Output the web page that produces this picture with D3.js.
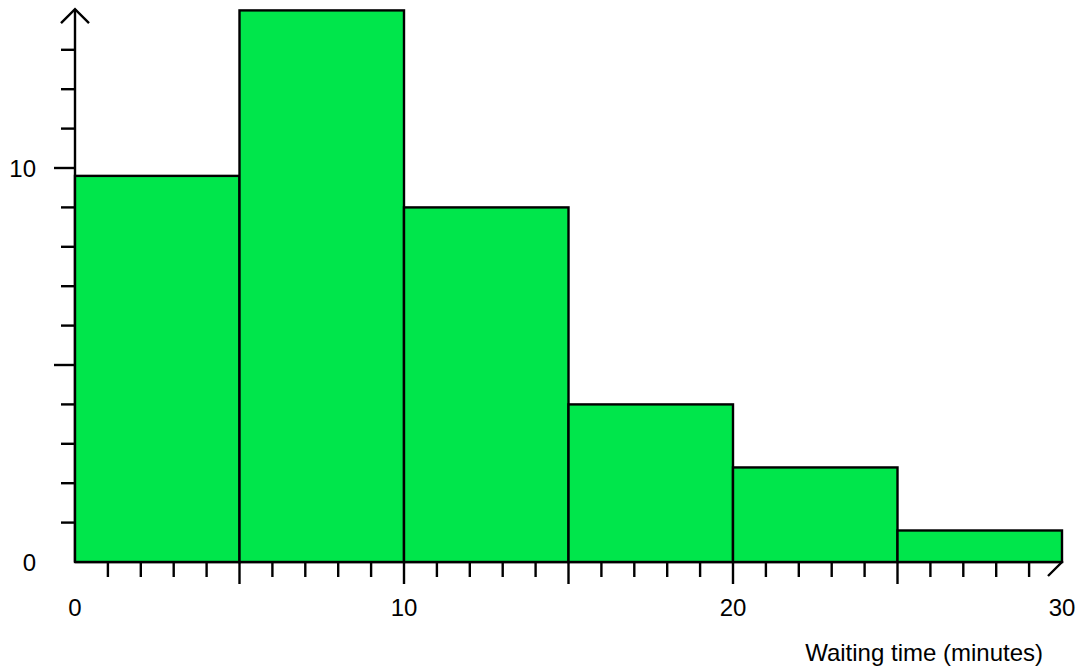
<!DOCTYPE html>
<html>
<head>
<meta charset="utf-8">
<script src="https://cdn.jsdelivr.net/npm/d3@7"></script>
<style>
  html, body { margin: 0; padding: 0; background: #fff; }
  text { font-family: "Liberation Sans", Arial, sans-serif; }
</style>
</head>
<body>
<svg id="chart" width="1086" height="672"></svg>
<script>
// Data
const binStarts = [0, 5, 10, 15, 20, 25];
const binEnds = [5, 10, 15, 20, 25, 30];
const densities = [9.8, 14, 9, 4, 2.4, 0.8];
const xTickLabels = [0, 10, 20, 30];
const yTickLabels = [0, 10];
const xLabel = "Waiting time (minutes)";

const svg = d3.select("#chart");
const x = d3.scaleLinear().domain([0, 30]).range([75, 1062]);
const y = d3.scaleLinear().domain([0, 10]).range([562, 168]);
const SW = 2.4;

const g = svg.append("g");

// x-axis arrow (upper half hidden behind last bar)
g.append("path")
  .attr("d", `M${x(30) - 14},${y(0) + 14} L${x(30)},${y(0)} L${x(30) - 14},${y(0) - 14}`)
  .attr("fill", "none").attr("stroke", "#000").attr("stroke-width", SW);

// x ticks
const xt = d3.range(1, 30);
g.selectAll(".xt").data(xt).join("line")
  .attr("x1", d => x(d)).attr("x2", d => x(d))
  .attr("y1", y(0)).attr("y2", d => y(0) + (d % 5 === 0 ? 22 : 15))
  .attr("stroke", "#000").attr("stroke-width", SW);

// y ticks
const yt = d3.range(1, 14);
g.selectAll(".yt").data(yt).join("line")
  .attr("x1", d => x(0) - (d % 5 === 0 ? 21 : 14)).attr("x2", x(0))
  .attr("y1", d => y(d)).attr("y2", d => y(d))
  .attr("stroke", "#000").attr("stroke-width", SW);

// y axis line with arrow
const yTop = y(14.03);
g.append("line").attr("x1", x(0)).attr("x2", x(0)).attr("y1", y(0)).attr("y2", yTop)
  .attr("stroke", "#000").attr("stroke-width", SW);
g.append("path")
  .attr("d", `M${x(0) - 14},${yTop + 14} L${x(0)},${yTop} L${x(0) + 14},${yTop + 14}`)
  .attr("fill", "none").attr("stroke", "#000").attr("stroke-width", SW);

// x axis line
g.append("line").attr("x1", x(0)).attr("x2", x(30)).attr("y1", y(0)).attr("y2", y(0))
  .attr("stroke", "#000").attr("stroke-width", SW);

// bars
g.selectAll(".bar").data(densities).join("rect")
  .attr("x", (d, i) => x(binStarts[i]))
  .attr("width", (d, i) => x(binEnds[i]) - x(binStarts[i]))
  .attr("y", d => y(d))
  .attr("height", d => y(0) - y(d))
  .attr("fill", "#00e64b").attr("stroke", "#000").attr("stroke-width", SW);

// x tick labels
g.selectAll(".xl").data(xTickLabels).join("text")
  .attr("x", d => x(d)).attr("y", 616)
  .attr("text-anchor", "middle").attr("font-size", 24).attr("fill", "#000")
  .text(d => d);

// y tick labels
g.selectAll(".yl").data(yTickLabels).join("text")
  .attr("x", 36).attr("y", d => y(d) + 9)
  .attr("text-anchor", "end").attr("font-size", 24).attr("fill", "#000")
  .text(d => d);

// x label
g.append("text").attr("x", 1043).attr("y", 661)
  .attr("text-anchor", "end").attr("font-size", 24).attr("fill", "#000")
  .text(xLabel);
</script>
</body>
</html>
